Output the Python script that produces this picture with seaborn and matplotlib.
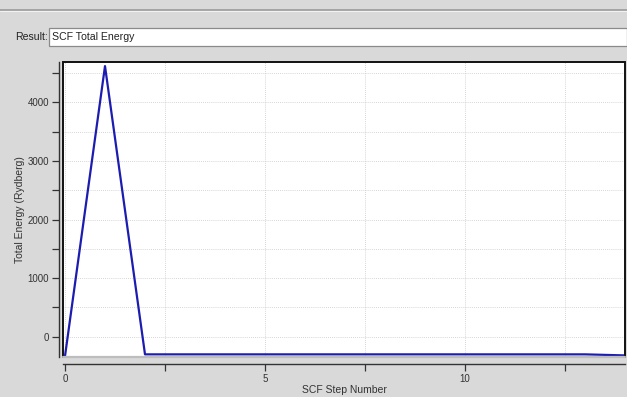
import matplotlib
matplotlib.use("Agg")
import matplotlib.pyplot as plt
import seaborn as sns
import pandas as pd
from matplotlib.patches import Rectangle
from matplotlib.lines import Line2D
from matplotlib.ticker import MultipleLocator

steps = list(range(15))
energy = [-330, 4620, -300, -300, -300, -300, -300, -300, -300, -300, -300, -300, -300, -300, -318]
x_label = "SCF Step Number"
y_label = "Total Energy (Rydberg)"
result_name = "SCF Total Energy"

sns.set_style("white")
plt.rcParams['font.family'] = ['Liberation Sans', 'DejaVu Sans']

W, H = 627, 397
fig = plt.figure(figsize=(W / 100, H / 100), dpi=100)
bg = "#d9d9d9"
fig.patch.set_facecolor(bg)

def fx(px):
    return px / W

def fy(py):
    return 1 - py / H

# top separator
fig.add_artist(Line2D([0, 1], [fy(10), fy(10)], color="#9a9a9a", lw=1.2))
fig.add_artist(Line2D([0, 1], [fy(11.3), fy(11.3)], color="#f2f2f2", lw=0.8))

# Result field
fig.text(fx(15), fy(36.5), "Result:", fontsize=7.6, va="center", ha="left", color="#222222")
fig.add_artist(Rectangle((fx(49), fy(45.5)), fx(627 - 49), (45.5 - 28) / H,
                         facecolor="white", edgecolor="#8a8a8a", lw=0.9, transform=fig.transFigure))
fig.text(fx(52), fy(36.5), result_name, fontsize=7.6, va="center", ha="left", color="#222222")

# axes
left, top, right, bottom = 63, 62, 625, 357
ax = fig.add_axes([fx(left), fy(bottom), fx(right - left), (bottom - top) / H])
ax.set_facecolor("white")

df = pd.DataFrame({"step": steps, "energy": energy})
sns.lineplot(data=df, x="step", y="energy", ax=ax, color="#1c1cb0", lw=1.6)

ax.set_xlim(-0.05, 14.0)
ax.set_ylim(-345, 4690)

ax.xaxis.set_major_locator(MultipleLocator(5))
ax.xaxis.set_minor_locator(MultipleLocator(2.5))
ax.yaxis.set_major_locator(MultipleLocator(1000))
ax.yaxis.set_minor_locator(MultipleLocator(500))

ax.grid(True, which="both", color="#c8c8c8", ls=(0, (1, 1.5)), lw=0.6)
ax.set_axisbelow(True)

for s in ["top", "right"]:
    ax.spines[s].set_visible(False)
ax.spines["left"].set_position(("outward", 3))
ax.spines["bottom"].set_position(("outward", 5))
ax.spines["left"].set_color("#333333")
ax.spines["bottom"].set_color("#333333")
ax.spines["left"].set_linewidth(1.0)
ax.spines["bottom"].set_linewidth(1.0)

# frame box
ax.add_patch(Rectangle((0, 0), 1, 1, transform=ax.transAxes, fill=False,
                       edgecolor="#111111", lw=1.4, clip_on=False, zorder=5))
ax.add_artist(Line2D([0, 1], [0, 0], transform=ax.transAxes, color="#bdbdbd", lw=1.6, zorder=6, clip_on=False))

ax.tick_params(axis="both", which="major", length=5, width=0.9, labelsize=7, colors="#333333",
               direction="out", left=True, bottom=True)
ax.tick_params(axis="both", which="minor", length=5, width=0.9, direction="out", left=True, bottom=True,
               colors="#333333")
ax.tick_params(axis="x", which="both", pad=2)
ax.tick_params(axis="y", which="both", pad=2)

ax.set_xlabel(x_label, fontsize=7.5, color="#333333", labelpad=1)
ax.set_ylabel(y_label, fontsize=7.5, color="#333333", labelpad=2)

fig.savefig("out.png", dpi=100, facecolor=bg)
